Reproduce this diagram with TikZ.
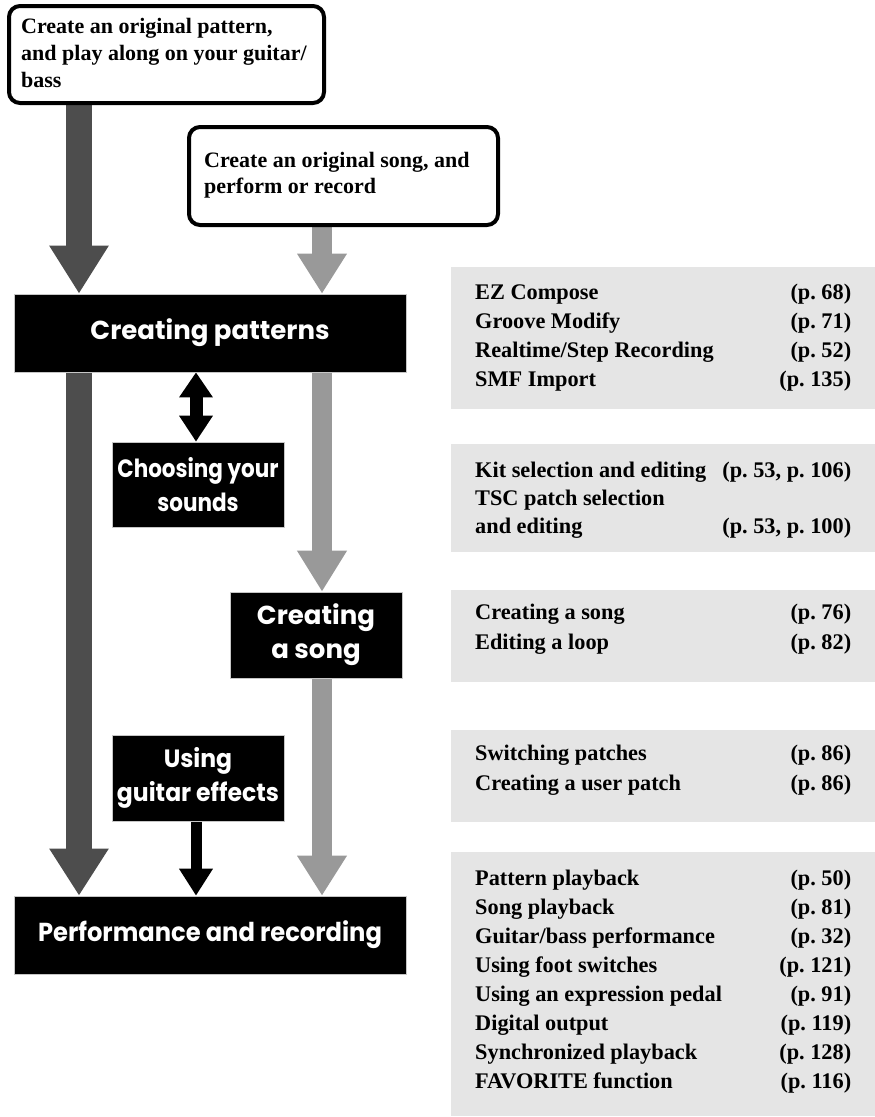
\documentclass[tikz,border=0pt]{standalone}
\usepackage{fontspec}
\setmainfont{Liberation Serif}
\newfontfamily\fut{Poppins}
\newfontfamily\futc{Poppins}[FakeStretch=0.86]
\newfontfamily\futm{Poppins}[FakeStretch=0.94]
\newfontfamily\futw{Poppins}[FakeStretch=0.93]
\usetikzlibrary{arrows.meta,backgrounds}
\definecolor{darkarrow}{RGB}{77,77,77}
\definecolor{lightarrow}{RGB}{153,153,153}
\definecolor{panelgray}{RGB}{229,229,229}
\tikzset{
  startbox/.style={draw=black, line width=4pt, rounded corners=11pt, fill=white, inner sep=0pt},
  starttext/.style={anchor=base west, inner sep=0pt, font=\bfseries\fontsize{22}{27}\selectfont},
  blackbox/.style={fill=black, draw=gray!45, line width=0.6pt, text=white, align=center, inner sep=0pt,
    font=\fut\bfseries\fontsize{26}{34}\selectfont},
  narrowbox/.style={blackbox, font=\futc\bfseries\fontsize{25}{34}\selectfont},
  panel/.style={fill=panelgray, inner sep=0pt, anchor=north west, minimum width=424pt},
  paneltext/.style={anchor=base west, inner sep=0pt, font=\bfseries\fontsize{22.3}{29}\selectfont},
  darkflow/.style={draw=darkarrow, line width=26pt, -{Triangle[width=56pt,length=48pt]}},
  lightflow/.style={draw=lightarrow, line width=20pt, -{Triangle[width=47pt,length=41pt]}},
  blackflow/.style={draw=black, line width=12pt},
}
\begin{document}
\begin{tikzpicture}[x=1pt,y=-1pt]
\useasboundingbox (0,0) rectangle (875,1117);

% start boxes
\node[startbox, minimum width=315pt, minimum height=97pt] (b1) at (166.5,54.5) {};
\node[starttext] (b1t) at (21,33) {\begin{tabular}[t]{@{}l@{}}Create an original pattern,\\and play along on your guitar/\\bass\end{tabular}};
\node[startbox, minimum width=309pt, minimum height=98pt] (b2) at (343.5,176) {};
\node[starttext, font=\bfseries\fontsize{22}{26}\selectfont] (b2t) at (204,167) {\begin{tabular}[t]{@{}l@{}}Create an original song, and\\perform or record\end{tabular}};

% black boxes
\node[blackbox, minimum width=392pt, minimum height=78pt] (cp) at (210,333) {Creating patterns};
\node[narrowbox, minimum width=172pt, minimum height=85pt] (ch) at (198,484.5) {Choosing your\\sounds};
\node[blackbox, minimum width=172pt, minimum height=86pt] (cs) at (316,635) {Creating\\a song};
\node[narrowbox, font=\futm\bfseries\fontsize{25}{34}\selectfont, minimum width=172pt, minimum height=86pt] (ug) at (198,778) {Using\\guitar effects};
\node[blackbox, font=\futw\bfseries\fontsize{26}{34}\selectfont, minimum width=392pt, minimum height=78pt] (pr) at (210,935) {Performance and recording};

% column coordinates
\coordinate (colA) at (79,0);
\coordinate (colB) at (322,0);
\coordinate (colC) at (196,0);

\begin{scope}[on background layer]
\draw[darkflow] (b1.south -| colA) -- (cp.north -| colA);
\draw[darkflow, -{Triangle[width=56pt,length=47pt]}] (cp.south -| colA) -- (pr.north -| colA);
\draw[lightflow, -{Triangle[width=47pt,length=40pt]}] (b2.south -| colB) -- (cp.north -| colB);
\draw[lightflow] (cp.south -| colB) -- (cs.north -| colB);
\draw[lightflow, -{Triangle[width=47pt,length=40pt]}] (cs.south -| colB) -- (pr.north -| colB);
\draw[blackflow, line width=13pt, {Triangle[width=32pt,length=25pt]}-{Triangle[width=32pt,length=26pt]}] (cp.south -| colC) -- (ch.north -| colC);
\draw[blackflow, line width=11pt, -{Triangle[width=32pt,length=27pt]}] (ug.south -| colC) -- (pr.north -| colC);
\end{scope}

% panels
\node[panel, minimum height=142pt] (p1) at (451,267) {};
\node[panel, minimum height=108pt] (p2) at (451,444) {};
\node[panel, minimum height=92pt] (p3) at (451,590) {};
\node[panel, minimum height=92pt] (p4) at (451,730) {};
\node[panel, minimum height=264pt] (p5) at (451,852) {};

\node[paneltext] (p1t) at (475,299) {\begin{tabular*}{376pt}[t]{@{\extracolsep{\fill}}lr@{}}
EZ Compose & (p.~68)\\
Groove Modify & (p.~71)\\
Realtime/Step Recording & (p.~52)\\
SMF Import & (p.~135)
\end{tabular*}};
\node[paneltext, font=\bfseries\fontsize{22.3}{28}\selectfont] (p2t) at (475,477) {\begin{tabular*}{376pt}[t]{@{\extracolsep{\fill}}lr@{}}
Kit selection and editing & (p.~53, p.~106)\\
TSC patch selection & \\
and editing & (p.~53, p.~100)
\end{tabular*}};
\node[paneltext, font=\bfseries\fontsize{22.3}{30}\selectfont] (p3t) at (475,619) {\begin{tabular*}{376pt}[t]{@{\extracolsep{\fill}}lr@{}}
Creating a song & (p.~76)\\
Editing a loop & (p.~82)
\end{tabular*}};
\node[paneltext, font=\bfseries\fontsize{22.3}{30}\selectfont] (p4t) at (475,760) {\begin{tabular*}{376pt}[t]{@{\extracolsep{\fill}}lr@{}}
Switching patches & (p.~86)\\
Creating a user patch & (p.~86)
\end{tabular*}};
\node[paneltext] (p5t) at (475,885) {\begin{tabular*}{376pt}[t]{@{\extracolsep{\fill}}lr@{}}
Pattern playback & (p.~50)\\
Song playback & (p.~81)\\
Guitar/bass performance & (p.~32)\\
Using foot switches & (p.~121)\\
Using an expression pedal & (p.~91)\\
Digital output & (p.~119)\\
Synchronized playback & (p.~128)\\
FAVORITE function & (p.~116)
\end{tabular*}};
\end{tikzpicture}
\end{document}
